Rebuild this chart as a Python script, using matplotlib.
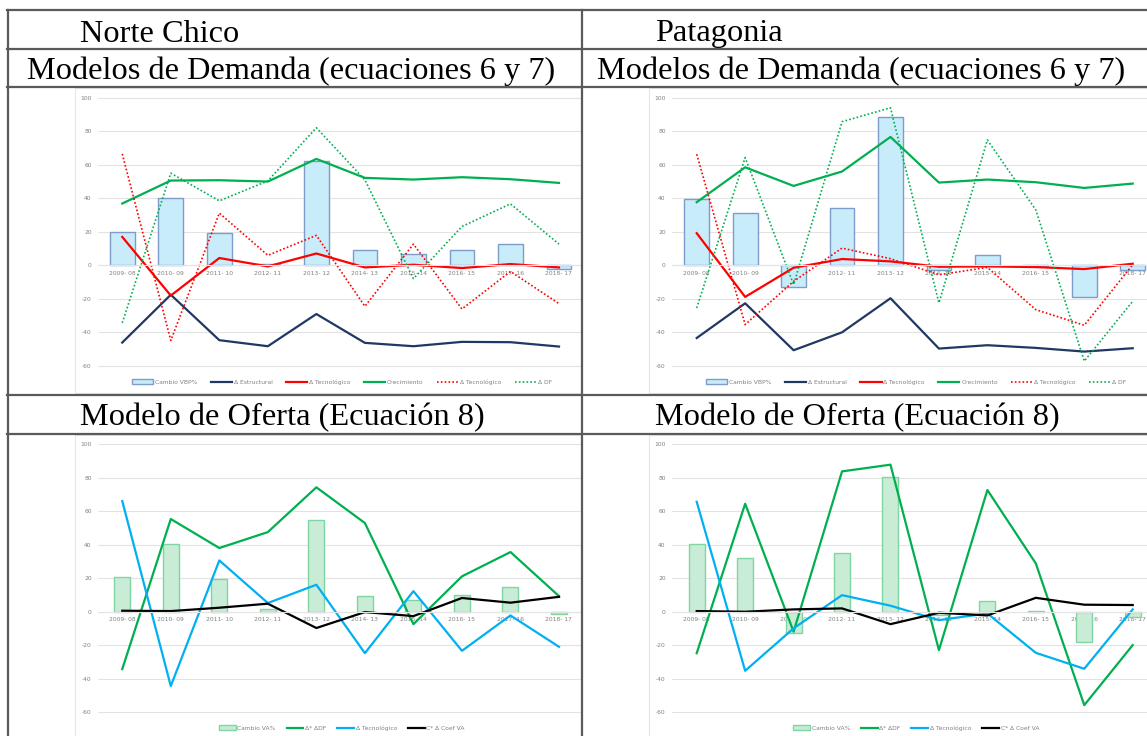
import matplotlib
matplotlib.use("Agg")
import matplotlib.pyplot as plt
from matplotlib.lines import Line2D
from matplotlib.patches import Rectangle

plt.rcParams["axes.unicode_minus"] = False

W, H = 1147, 736

periods = ["2009- 08", "2010- 09", "2011- 10", "2012- 11", "2013- 12",
           "2014- 13", "2015- 14", "2016- 15", "2017- 16", "2018- 17"]

# Norte Chico - demanda
nc_vbp = [20.2, 40.0, 19.2, 1.0, 62.0, 9.3, 7.0, 9.3, 13.0, -2.2]
nc_estructural = [-46.0, -17.5, -44.6, -48.2, -29.0, -46.2, -48.2, -45.6, -45.8, -48.4]
nc_tecno = [17.0, -18.0, 4.4, -0.6, 7.1, -1.2, 0.4, -1.6, 0.8, -1.2]
nc_crec = [36.9, 50.6, 50.8, 50.0, 63.5, 52.2, 51.2, 52.6, 51.4, 49.2]
nc_tecno2 = [66.5, -44.8, 31.2, 6.0, 17.9, -24.4, 12.7, -26.0, -3.6, -22.8]
nc_df = [-34.3, 55.0, 38.5, 50.4, 82.1, 51.0, -7.9, 23.2, 36.7, 12.7]

# Patagonia - demanda
pa_vbp = [39.7, 31.2, -12.7, 34.1, 88.7, -2.6, 6.5, -0.5, -18.8, -3.0]
pa_estructural = [-43.3, -22.6, -50.6, -39.9, -19.6, -49.6, -47.6, -49.2, -51.4, -49.4]
pa_tecno = [19.2, -18.8, -1.4, 3.8, 2.4, -0.8, -0.6, -1.0, -2.2, 1.0]
pa_crec = [37.7, 58.5, 47.4, 56.0, 76.6, 49.4, 51.2, 49.6, 46.2, 48.8]
pa_tecno2 = [66.3, -35.3, -9.5, 10.3, 4.0, -5.6, -1.2, -26.4, -35.7, 0.4]
pa_df = [-25.4, 64.3, -11.5, 85.7, 94.0, -22.4, 74.8, 33.1, -57.1, -21.4]

# Norte Chico - oferta
nc_va = [20.9, 40.6, 19.7, 1.6, 54.7, 9.3, 7.0, 10.1, 14.5, -1.6]
nc_ddf = [-34.2, 55.3, 38.0, 47.5, 74.2, 52.9, -7.4, 21.1, 35.6, 9.3]
nc_tec_of = [66.0, -44.3, 30.6, 5.2, 16.1, -24.7, 12.3, -23.3, -2.2, -20.9]
nc_coef = [0.6, 0.4, 2.4, 4.8, -9.7, -0.2, -2.6, 8.2, 5.4, 8.9]

# Patagonia - oferta
pa_va = [40.2, 31.8, -12.7, 34.8, 80.1, -2.2, 6.2, 0.3, -18.3, -3.2]
pa_ddf = [-24.7, 64.4, -11.9, 83.7, 87.7, -22.9, 72.6, 28.8, -55.7, -19.9]
pa_tec_of = [65.6, -35.2, -9.9, 9.9, 3.6, -5.0, -1.0, -24.5, -34.0, 1.4]
pa_coef = [0.4, 0.0, 1.4, 2.0, -7.4, -0.6, -2.2, 8.3, 4.2, 4.0]

NAVY = "#203864"
RED = "#ff0000"
GREEN = "#00b050"
CYAN = "#00b0f0"
GRID = "#e3e3e3"
TICK = "#808080"
SMALL = 4.3


def fig_rect(x0, y0, x1, y1):
    return [x0 / W, 1 - y1 / H, (x1 - x0) / W, (y1 - y0) / H]


def base_axes(fig, box, xlim, ylim):
    ax = fig.add_axes(fig_rect(*box))
    ax.set_xlim(*xlim)
    ax.set_ylim(*ylim)
    ax.set_facecolor("none")
    for s in ["top", "right", "left"]:
        ax.spines[s].set_visible(False)
    ax.spines["bottom"].set_position(("data", 0))
    ax.spines["bottom"].set_color(GRID)
    ax.spines["bottom"].set_linewidth(0.8)
    ax.set_yticks(range(-60, 101, 20))
    ax.set_xticks(range(len(periods)))
    ax.set_xticklabels(periods)
    ax.tick_params(axis="y", length=0, pad=4.5, labelsize=SMALL, labelcolor=TICK)
    ax.tick_params(axis="x", length=0, pad=4.0, labelsize=SMALL, labelcolor=TICK)
    ax.grid(axis="y", color=GRID, linewidth=0.8)
    ax.set_axisbelow(True)
    return ax


def bar_first_legend(ax, ncol, leg_x, leg_y, hlen, colsp):
    handles, labels = ax.get_legend_handles_labels()
    # the bar container comes last in matplotlib's ordering, Excel puts it first
    handles = handles[-1:] + handles[:-1]
    labels = labels[-1:] + labels[:-1]
    ax.legend(handles, labels, loc="center", bbox_to_anchor=(leg_x, leg_y),
              ncol=ncol, frameon=False, fontsize=SMALL, labelcolor=TICK,
              handlelength=hlen, handletextpad=0.3, columnspacing=colsp,
              handleheight=0.9)


def demand_chart(fig, box, xlim, vbp, est, tec, crec, tec2, df, leg_x):
    ax = base_axes(fig, box, xlim, (-76.1, 105.8))
    x = range(len(periods))
    ax.bar(x, vbp, width=0.51, color="#c9ecfa", edgecolor="#7f9cc8",
           linewidth=1.0, label="Cambio VBP%")
    ax.plot(x, est, color=NAVY, lw=1.6, label="Δ Estructural")
    ax.plot(x, tec, color=RED, lw=1.6, label="Δ Tecnológico")
    ax.plot(x, crec, color=GREEN, lw=1.6, label="Crecimiento")
    ax.plot(x, tec2, color=RED, lw=1.2, ls=(0, (1, 1.3)), label="Δ Tecnológico")
    ax.plot(x, df, color=GREEN, lw=1.2, ls=(0, (1, 1.3)), label="Δ DF")
    bar_first_legend(ax, 6, leg_x, 0.036, 3.6, 2.2)
    return ax


def supply_chart(fig, box, xlim, va, ddf, tec, coef, leg_x):
    ax = base_axes(fig, box, xlim, (-74.1, 105.4))
    x = range(len(periods))
    ax.bar(x, va, width=0.33, color="#c8ecd6", edgecolor="#7fd6a2",
           linewidth=1.0, label="Cambio VA%")
    ax.plot(x, ddf, color=GREEN, lw=1.6, label="Δ* ΔDF")
    ax.plot(x, tec, color=CYAN, lw=1.6, label="Δ Tecnológico")
    ax.plot(x, coef, color="black", lw=1.6, label="C* Δ Coef VA")
    bar_first_legend(ax, 4, leg_x, 0.026, 2.8, 1.8)
    return ax


fig = plt.figure(figsize=(W / 100, H / 100), dpi=100)
fig.patch.set_facecolor("white")

# chart image frames, kept behind the axes
for (x0, y0, x1, y1) in [(75, 88, 582, 393), (649, 88, 1150, 393),
                         (75, 435, 582, 740), (649, 435, 1150, 740)]:
    fig.add_artist(Rectangle((x0 / W, 1 - y1 / H), (x1 - x0) / W, (y1 - y0) / H,
                             transform=fig.transFigure, facecolor="white",
                             edgecolor="#e6e6e6", linewidth=0.8, zorder=-10))

left_xlim = (-0.5, 9.474)
right_xlim = (-0.51, 9.295)

demand_chart(fig, (98, 88, 582, 393), left_xlim, nc_vbp, nc_estructural,
             nc_tecno, nc_crec, nc_tecno2, nc_df, 0.504)
demand_chart(fig, (672, 88, 1147, 393), right_xlim, pa_vbp, pa_estructural,
             pa_tecno, pa_crec, pa_tecno2, pa_df, 0.514)
supply_chart(fig, (98, 435, 582, 736), left_xlim, nc_va, nc_ddf, nc_tec_of,
             nc_coef, 0.504)
supply_chart(fig, (672, 435, 1147, 736), right_xlim, pa_va, pa_ddf, pa_tec_of,
             pa_coef, 0.514)

# table rules
LINE = "#5a5a5a"
for y in [10, 49, 87, 395, 434]:
    fig.add_artist(Line2D([7 / W, 1], [1 - y / H, 1 - y / H],
                          transform=fig.transFigure, color=LINE, lw=1.6))
for x in [8, 582]:
    fig.add_artist(Line2D([x / W, x / W], [1 - 10 / H, 0],
                          transform=fig.transFigure, color=LINE, lw=1.6))

serif = dict(family="Liberation Serif", fontsize=23.3, color="black",
             va="baseline", ha="left")
fig.text(80 / W, 1 - 41.5 / H, "Norte Chico", **serif)
fig.text(655 / W, 1 - 41.5 / H, "Patagonia", **serif)
fig.text(27 / W, 1 - 79 / H, "Modelos de Demanda (ecuaciones 6 y 7)", **serif)
fig.text(597 / W, 1 - 79 / H, "Modelos de Demanda (ecuaciones 6 y 7)", **serif)
fig.text(80 / W, 1 - 425 / H, "Modelo de Oferta (Ecuación 8)", **serif)
fig.text(655 / W, 1 - 425 / H, "Modelo de Oferta (Ecuación 8)", **serif)

fig.savefig("out.png", dpi=100)
